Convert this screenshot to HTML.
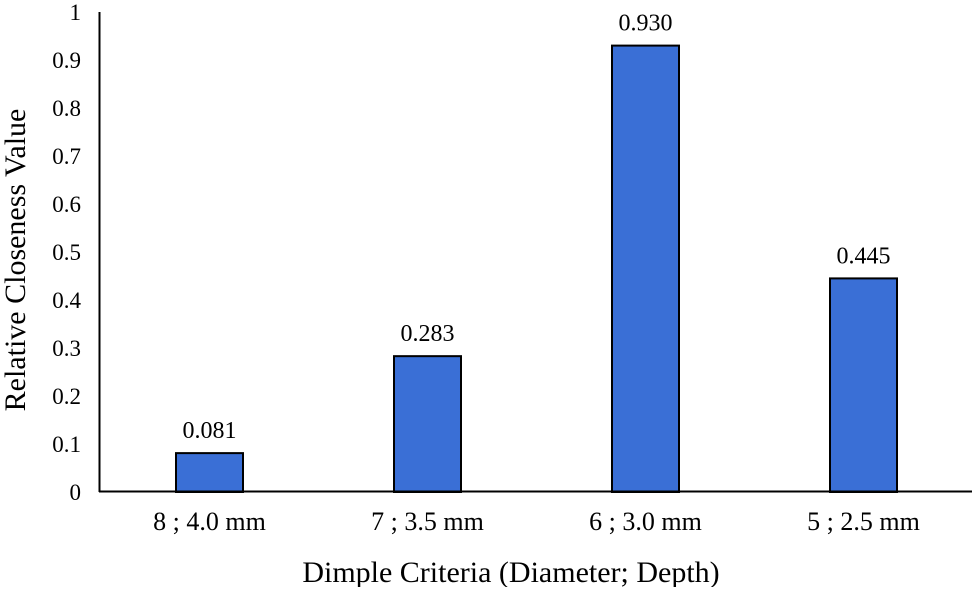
<!DOCTYPE html>
<html><head><meta charset="utf-8"><style>
body{margin:0;background:#fff;}
svg text{font-family:"Liberation Serif",serif;fill:#000;}
</style></head><body>
<svg id="chart" width="975" height="587" viewBox="0 0 975 587" xmlns="http://www.w3.org/2000/svg">
<g id="yticks"></g><g id="bars"></g><g id="xlabels"></g>
<line x1="99.5" y1="12" x2="99.5" y2="492" stroke="#000" stroke-width="2"/>
<line x1="99" y1="491.5" x2="972" y2="491.5" stroke="#000" stroke-width="2"/>
<text transform="translate(25,260) rotate(-90)" text-anchor="middle" font-size="30">Relative Closeness Value</text>
<text x="511" y="582" text-anchor="middle" font-size="30">Dimple Criteria (Diameter; Depth)</text>
</svg>
<script>
const categories=["8 ; 4.0 mm","7 ; 3.5 mm","6 ; 3.0 mm","5 ; 2.5 mm"];
const values=[0.081,0.283,0.930,0.445];
const valueLabels=["0.081","0.283","0.930","0.445"];
const yTicks=[0,0.1,0.2,0.3,0.4,0.5,0.6,0.7,0.8,0.9,1];
const yTickLabels=["0","0.1","0.2","0.3","0.4","0.5","0.6","0.7","0.8","0.9","1"];
const NS="http://www.w3.org/2000/svg";
const x0=100.5,x1=972.5,yb=492,yt=12;
const bw=(x1-x0)/categories.length;
function yScale(v){return yb-(v/1)*(yb-yt);}
function xCenter(i){return x0+bw*(i+0.5);}
function mk(tag,attrs,parent,txt){const e=document.createElementNS(NS,tag);for(const k in attrs)e.setAttribute(k,attrs[k]);if(txt!=null)e.textContent=txt;parent.appendChild(e);return e;}
const gy=document.getElementById('yticks'),gb=document.getElementById('bars'),gx=document.getElementById('xlabels');
yTicks.forEach((t,i)=>{
 const e=mk('text',{x:81,y:yScale(t)+8,'text-anchor':'end','font-size':23},gy,yTickLabels[i]);
 
 
});
values.forEach((v,i)=>{
 const cx=xCenter(i),w=67;
 const r=mk('rect',{x:cx-w/2,y:yScale(v),width:w,height:yb-yScale(v),fill:'#3a6fd6',stroke:'#000','stroke-width':2},gb);
 
 
 const l=mk('text',{x:cx,y:yScale(v)-15,'text-anchor':'middle','font-size':24},gb,valueLabels[i]);
 
 
 const c=mk('text',{x:cx,y:530,'text-anchor':'middle','font-size':26},gx,categories[i]);
 
 
});
</script>
</body></html>
